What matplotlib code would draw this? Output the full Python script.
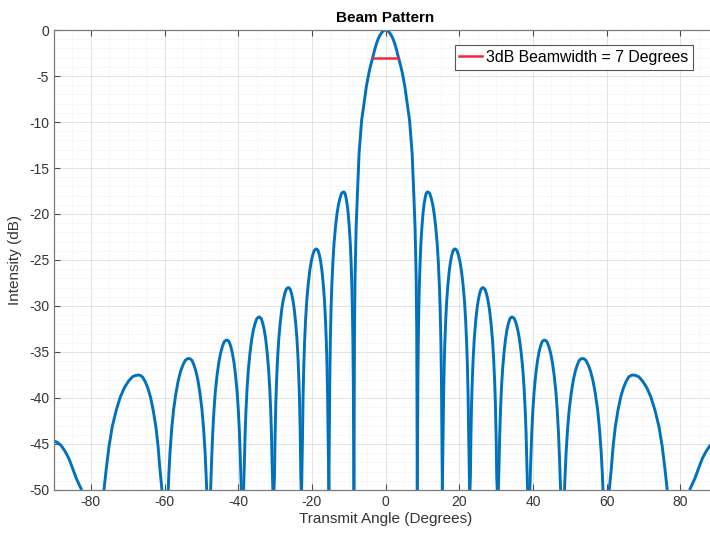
import numpy as np
import matplotlib.pyplot as plt
from matplotlib.ticker import MultipleLocator

plt.rcParams['font.family'] = ['Liberation Sans', 'DejaVu Sans']
plt.rcParams['axes.unicode_minus'] = False

# beam pattern (angle in degrees, intensity in dB), one lobe at a time
main_angles = [-8.6, -8.45, -8.3, -8.0, -7.6, -7.2, -6.5, -5.9, -5.25, -4.5, -4.0, -3.5, -3.0, -2.5, -2.0, -1.5, -1.0, -0.5,
               0, 0.5, 1.0, 1.5, 2.0, 2.5, 3.0, 3.5, 4.0, 4.5, 5.25, 5.9, 6.5, 7.2, 7.6, 8.0, 8.3, 8.45, 8.6]
main_db = [-50, -33, -27, -21.5, -17.3, -13.4, -9.8, -8.1, -6.2, -4.6, -3.75, -3.0, -2.2, -1.5, -0.95, -0.55, -0.25, -0.06,
           0, -0.06, -0.25, -0.55, -0.95, -1.5, -2.2, -3.0, -3.75, -4.6, -6.2, -8.1, -9.8, -13.4, -17.3, -21.5, -27, -33, -50]

s1_right = [8.6, 8.68, 8.77, 8.88, 9.02, 9.16, 9.36, 9.58, 9.86, 10.14, 10.42, 10.7, 10.98, 11.2, 11.4,
            11.68, 12.0, 12.4, 12.8, 13.2, 13.6, 14.0, 14.32, 14.6, 14.8, 15.0, 15.16, 15.28, 15.4]
s1_left = [-15.4, -15.28, -15.16, -15.0, -14.8, -14.6, -14.32, -14.0, -13.6, -13.2, -12.8, -12.4, -12.0, -11.68, -11.4,
           -11.2, -10.98, -10.7, -10.42, -10.14, -9.86, -9.58, -9.36, -9.16, -9.02, -8.88, -8.77, -8.68, -8.6]
s1_db = [-50, -44.1, -38.1, -33.7, -30.2, -27.8, -25.3, -23.2, -21.4, -20.0, -19.0, -18.3, -17.8, -17.65, -17.6,
         -17.65, -17.8, -18.3, -19.0, -20.0, -21.4, -23.2, -25.3, -27.8, -30.2, -33.7, -38.1, -44.1, -50]

s2_right = [15.4, 15.6, 15.74, 15.91, 16.08, 16.32, 16.59, 16.93, 17.27, 17.61, 17.95, 18.29, 18.56, 18.8,
            19.08, 19.4, 19.8, 20.2, 20.6, 21.0, 21.4, 21.72, 22.0, 22.2, 22.4, 22.56, 22.8]
s2_left = [-22.8, -22.56, -22.4, -22.2, -22.0, -21.72, -21.4, -21.0, -20.6, -20.2, -19.8, -19.4, -19.08, -18.8,
           -18.56, -18.29, -17.95, -17.61, -17.27, -16.93, -16.59, -16.32, -16.08, -15.91, -15.74, -15.6, -15.4]
s2_db = [-50, -44.3, -39.9, -36.4, -34.0, -31.5, -29.4, -27.6, -26.2, -25.2, -24.5, -24.0, -23.85, -23.8,
         -23.85, -24.0, -24.5, -25.2, -26.2, -27.6, -29.4, -31.5, -34.0, -36.4, -39.9, -44.3, -50]

s3_right = [22.9, 23.02, 23.16, 23.34, 23.52, 23.77, 24.06, 24.42, 24.78, 25.14, 25.5, 25.86, 26.15, 26.4,
            26.68, 27.0, 27.4, 27.8, 28.2, 28.6, 29.0, 29.32, 29.6, 29.8, 30.0, 30.16, 30.3]
s3_left = [-30.3, -30.16, -30.0, -29.8, -29.6, -29.32, -29.0, -28.6, -28.2, -27.8, -27.4, -27.0, -26.68, -26.4,
           -26.15, -25.86, -25.5, -25.14, -24.78, -24.42, -24.06, -23.77, -23.52, -23.34, -23.16, -23.02, -22.9]
s3_db = [-50, -48.5, -44.1, -40.6, -38.2, -35.7, -33.6, -31.8, -30.4, -29.4, -28.7, -28.2, -28.05, -28.0,
         -28.05, -28.2, -28.7, -29.4, -30.4, -31.8, -33.6, -35.7, -38.2, -40.6, -44.1, -48.5, -50]

s4_right = [30.6, 30.79, 30.99, 31.18, 31.45, 31.77, 32.16, 32.55, 32.94, 33.33, 33.72, 34.03, 34.3,
            34.62, 34.98, 35.43, 35.88, 36.33, 36.78, 37.23, 37.59, 37.9, 38.13, 38.35, 38.55]
s4_left = [-38.55, -38.35, -38.13, -37.9, -37.59, -37.23, -36.78, -36.33, -35.88, -35.43, -34.98, -34.62, -34.3,
           -34.03, -33.72, -33.33, -32.94, -32.55, -32.16, -31.77, -31.45, -31.18, -30.99, -30.79, -30.6]
s4_db = [-50, -47.3, -43.8, -41.4, -38.9, -36.8, -35.0, -33.6, -32.6, -31.9, -31.4, -31.25, -31.2,
         -31.25, -31.4, -31.9, -32.6, -33.6, -35.0, -36.8, -38.9, -41.4, -43.8, -47.3, -50]

s5_right = [39.15, 39.45, 39.66, 39.96, 40.31, 40.74, 41.17, 41.6, 42.03, 42.46, 42.8, 43.1,
            43.44, 43.82, 44.3, 44.78, 45.26, 45.74, 46.22, 46.6, 46.94, 47.18, 47.5]
s5_left = [-47.5, -47.18, -46.94, -46.6, -46.22, -45.74, -45.26, -44.78, -44.3, -43.82, -43.44, -43.1,
           -42.8, -42.46, -42.03, -41.6, -41.17, -40.74, -40.31, -39.96, -39.66, -39.45, -39.15]
s5_db = [-50, -46.3, -43.9, -41.4, -39.3, -37.5, -36.1, -35.1, -34.4, -33.9, -33.75, -33.7,
         -33.75, -33.9, -34.4, -35.1, -36.1, -37.5, -39.3, -41.4, -43.9, -46.3, -50]

s6_right = [48.55, 48.73, 49.0, 49.39, 49.83, 50.38, 50.93, 51.48, 52.03, 52.58, 53.02, 53.4,
            53.85, 54.36, 55.0, 55.64, 56.28, 56.92, 57.56, 58.07, 58.52, 58.84, 59.0]
s6_left = [-59.0, -58.84, -58.52, -58.07, -57.56, -56.92, -56.28, -55.64, -55.0, -54.36, -53.85, -53.4,
           -53.02, -52.58, -52.03, -51.48, -50.93, -50.38, -49.83, -49.39, -49.0, -48.73, -48.55]
s6_db = [-50, -48.3, -45.9, -43.4, -41.3, -39.5, -38.1, -37.1, -36.4, -35.9, -35.75, -35.7,
         -35.75, -35.9, -36.4, -37.1, -38.1, -39.5, -41.3, -43.4, -45.9, -48.3, -50]

s7_right = [60.7, 61.26, 61.77, 62.36, 63.09, 63.82, 64.55, 65.28, 66.01, 66.59, 67.1,
            67.86, 68.74, 69.83, 70.92, 72.01, 73.1, 74.19, 75.06, 75.82, 76.45]
s7_left = [-76.45, -75.82, -75.06, -74.19, -73.1, -72.01, -70.92, -69.83, -68.74, -67.86, -67.1,
           -66.59, -66.01, -65.28, -64.55, -63.82, -63.09, -62.36, -61.77, -61.26, -60.7]
s7_db = [-50, -47.7, -45.2, -43.1, -41.3, -39.9, -38.9, -38.2, -37.7, -37.55, -37.5,
         -37.55, -37.7, -38.2, -38.9, -39.9, -41.3, -43.1, -45.2, -47.7, -50]

edge_left = [-90, -89.5, -89, -88, -87, -86, -85, -84, -83.2, -82.5]
edge_left_db = [-44.7, -44.75, -44.85, -45.2, -45.8, -46.55, -47.6, -48.7, -49.4, -50]
edge_right = [82.5, 83.2, 84, 85, 86, 87, 88, 89, 89.5, 90]
edge_right_db = [-50, -49.4, -48.7, -47.6, -46.55, -45.8, -45.2, -44.85, -44.75, -44.7]

lobes = [
    (edge_left, edge_left_db), (s7_left, s7_db), (s6_left, s6_db), (s5_left, s5_db),
    (s4_left, s4_db), (s3_left, s3_db), (s2_left, s2_db), (s1_left, s1_db),
    (main_angles, main_db),
    (s1_right, s1_db), (s2_right, s2_db), (s3_right, s3_db), (s4_right, s4_db),
    (s5_right, s5_db), (s6_right, s6_db), (s7_right, s7_db), (edge_right, edge_right_db),
]

# 3 dB beamwidth marker
bw_angles = [-3.5, 3.5]
bw_db = [-3, -3]
bw_label = '3dB Beamwidth = 7 Degrees'

x_ticks = [-80, -60, -40, -20, 0, 20, 40, 60, 80]
y_ticks = [0, -5, -10, -15, -20, -25, -30, -35, -40, -45, -50]

fig = plt.figure(figsize=(7.1, 5.33), dpi=100)
ax = fig.add_axes([0.0761, 0.0807, 0.934, 0.863])

for a, d in lobes:
    ax.plot(a, d, color='#0072BD', linewidth=2.1, solid_joinstyle='round', solid_capstyle='butt')

ax.plot(bw_angles, bw_db, color='#f2283c', linewidth=1.8, label=bw_label)

ax.set_xlim(-90, 90)
ax.set_ylim(-50, 0)
ax.set_xticks(x_ticks)
ax.set_yticks(y_ticks)
ax.xaxis.set_minor_locator(MultipleLocator(5))
ax.yaxis.set_minor_locator(MultipleLocator(1))

ax.grid(which='major', color='#dedede', linewidth=0.6)
ax.grid(which='minor', color='#e4e4e4', linewidth=0.5, linestyle=':')
ax.set_axisbelow(True)

ax.tick_params(which='both', direction='in', top=True, right=True, colors='#4d4d4d',
               labelsize=10, labelcolor='#333333')
ax.tick_params(which='major', length=4)
ax.tick_params(which='minor', length=0)
for s in ax.spines.values():
    s.set_color('#7a7a7a')
    s.set_linewidth(0.9)

ax.set_title('Beam Pattern', fontsize=11, fontweight='bold', pad=6)
ax.set_xlabel('Transmit Angle (Degrees)', fontsize=11, color='#333333', labelpad=2)
ax.set_ylabel('Intensity (dB)', fontsize=11, color='#333333', labelpad=5)

leg = ax.legend(loc='upper right', bbox_to_anchor=(0.964, 0.967), borderaxespad=0,
                fontsize=11.4, fancybox=False, framealpha=1, edgecolor='#555555',
                handlelength=1.4, handletextpad=0.3, borderpad=0.3)
leg.get_frame().set_linewidth(0.8)

fig.savefig('out.png', dpi=100)
